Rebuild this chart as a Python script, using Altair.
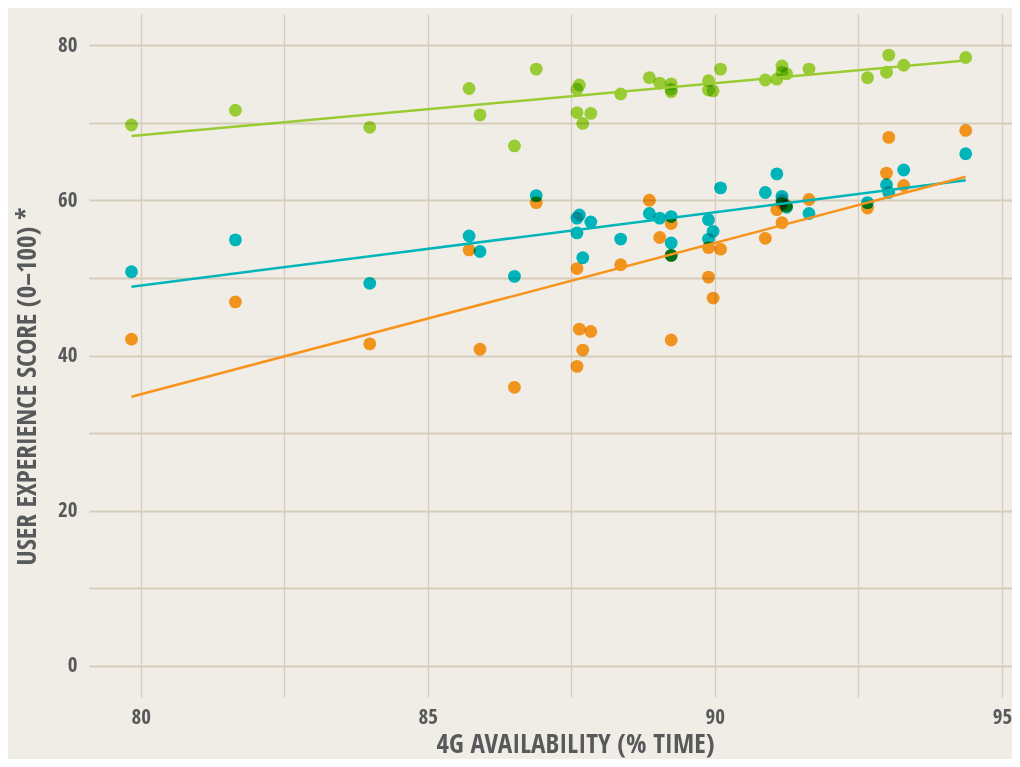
import altair as alt
import pandas as pd

# 4G availability (% time) per country
x_vals = [79.84, 81.65, 83.99, 85.72, 85.91, 86.51, 86.89,
          87.60, 87.60, 87.64, 87.70, 87.84, 88.36, 88.86, 89.04,
          89.24, 89.24, 89.24, 89.89, 89.89, 89.97, 90.10,
          90.88, 91.08, 91.17, 91.17, 91.25, 91.64, 92.66, 92.99, 93.03, 93.29, 94.37]
# user experience scores (0-100)
green_vals = [69.7, 71.6, 69.4, 74.4, 71.0, 67.0, 76.9,
              74.3, 71.3, 74.85, 69.9, 71.2, 73.7, 75.8, 75.1,
              75.0, 74.3, 74.0, 75.4, 74.2, 74.1, 76.9,
              75.5, 75.6, 77.3, 76.5, 76.3, 76.9, 75.8, 76.5, 78.7, 77.4, 78.4]
teal_vals = [50.8, 54.9, 49.3, 55.4, 53.4, 50.2, 60.6,
             57.7, 55.8, 58.1, 52.6, 57.2, 55.0, 58.3, 57.7,
             57.9, 54.5, 52.9, 57.5, 55.0, 56.0, 61.6,
             61.0, 63.4, 60.5, 60.0, 59.1, 58.3, 59.7, 62.0, 61.0, 63.9, 66.0]
orange_vals = [42.1, 46.9, 41.5, 53.6, 40.8, 35.9, 59.7,
               51.2, 38.6, 43.4, 40.7, 43.1, 51.7, 60.0, 55.2,
               57.0, 52.9, 42.0, 53.9, 50.1, 47.4, 53.7,
               55.1, 58.8, 57.1, 59.6, 59.3, 60.1, 59.0, 63.5, 68.1, 61.9, 69.0]

series_names = ["Green", "Teal", "Orange"]
line_colors = ["#99cc33", "#00b5b9", "#f7941e"]
# point colours are multiplied with the background, so they are set a bit lighter
point_colors = ["#a3db39", "#00c3cd", "#ff9f21"]

rows = []
for name, vals in zip(series_names, [green_vals, teal_vals, orange_vals]):
    for xv, yv in zip(x_vals, vals):
        rows.append({"x": xv, "y": yv, "series": name})
df = pd.DataFrame(rows)

FONT = "Open Sans Condensed, Liberation Sans Narrow, DejaVu Sans Condensed, Roboto Condensed, Open Sans, sans-serif"
TEXT = "#58595b"
GRID = "#d6ccbc"

x_enc = alt.X("x:Q",
              scale=alt.Scale(domain=[79.1, 95.176], nice=False, zero=False),
              axis=alt.Axis(values=[80, 82.5, 85, 87.5, 90, 92.5, 95],
                            format="d",
                            labelExpr="datum.value % 5 === 0 ? datum.label : ''",
                            title="4G AVAILABILITY (% TIME)",
                            titleX=486, titleY=55,
                            titleAlign="center", titleBaseline="alphabetic",
                            grid=True, gridColor=GRID, gridWidth=1.3,
                            domain=False, ticks=False,
                            labelBaseline="alphabetic", labelPadding=26,
                            labelFontSize=21, labelFont=FONT, labelFontWeight="bold",
                            labelColor=TEXT, titleFontSize=27, titleFont=FONT,
                            titleFontWeight="bold", titleColor=TEXT))
y_enc = alt.Y("y:Q",
              scale=alt.Scale(domain=[-4, 84], nice=False, zero=False),
              axis=alt.Axis(values=[0, 10, 20, 30, 40, 50, 60, 70, 80],
                            format="d",
                            labelExpr="datum.value % 20 === 0 ? datum.label : ''",
                            title="USER EXPERIENCE SCORE (0–100) *",
                            titleX=-54, titleY=372, titleAngle=270,
                            titleAlign="center", titleBaseline="alphabetic",
                            grid=True, gridColor=GRID, gridWidth=2,
                            domain=False, ticks=False, labelPadding=12,
                            labelFontSize=21, labelFont=FONT, labelFontWeight="bold",
                            labelColor=TEXT, titleFontSize=27, titleFont=FONT,
                            titleFontWeight="bold", titleColor=TEXT))

points = alt.Chart(df).mark_circle(size=165, opacity=1, blend="multiply").encode(
    x=x_enc, y=y_enc,
    color=alt.Color("series:N", scale=alt.Scale(domain=series_names, range=point_colors), legend=None))

lines = alt.Chart(df).transform_regression(
    "x", "y", groupby=["series"]
).mark_line(strokeWidth=2.5).encode(
    x="x:Q", y="y:Q",
    stroke=alt.Stroke("series:N", scale=alt.Scale(domain=series_names, range=line_colors), legend=None))

chart = alt.layer(points, lines).properties(
    width=923, height=683,
    autosize=alt.AutoSizeParams(type="none"),
    padding={"left": 81, "top": 6, "right": 0, "bottom": 62},
    background="#f0ede6",
).configure_view(stroke=None)

chart.save("out.html", embed_options={"renderer": "svg", "actions": False})
